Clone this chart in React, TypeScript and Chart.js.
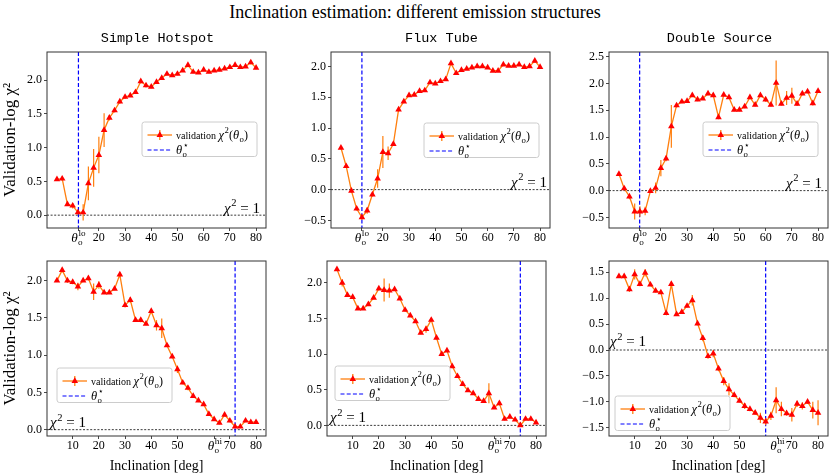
import { useEffect, useRef } from "react"
import { Chart, registerables } from "chart.js"

Chart.register(...registerables)

// inclination grid [deg]
const inclination = [4, 6, 8, 10, 12, 14, 16, 18, 20, 22, 24, 26, 28, 30, 32, 34, 36, 38, 40, 42, 44, 46, 48, 50, 52, 54, 56, 58, 60, 62, 64, 66, 68, 70, 72, 74, 76, 78, 80]

// top row: validation against the low-inclination truth
const hotspotLo = [0.53, 0.54, 0.16, 0.14, 0.04, 0.04, 0.47, 0.7, 0.89, 1.26, 1.44, 1.55, 1.68, 1.75, 1.77, 1.82, 1.98, 1.92, 1.9, 1.97, 2.03, 2.09, 2.07, 2.09, 2.14, 2.22, 2.12, 2.11, 2.15, 2.12, 2.14, 2.15, 2.17, 2.19, 2.22, 2.19, 2.2, 2.26, 2.18]
const hotspotLoErr = [0.02, 0.03, 0.02, 0.04, 0.03, 0.12, 0.25, 0.28, 0.27, 0.25, 0.04, 0.03, 0.03, 0.03, 0.02, 0.02, 0.03, 0.03, 0.02, 0.02, 0.02, 0.02, 0.02, 0.02, 0.02, 0.03, 0.02, 0.02, 0.02, 0.02, 0.02, 0.02, 0.02, 0.02, 0.02, 0.02, 0.02, 0.03, 0.02]
const fluxLo = [0.68, 0.38, -0.02, -0.31, -0.45, -0.34, -0.08, 0.18, 0.61, 0.59, 0.74, 1.3, 1.43, 1.53, 1.54, 1.6, 1.61, 1.74, 1.72, 1.76, 1.79, 2.05, 1.89, 1.94, 1.96, 1.98, 2.0, 2.0, 1.98, 1.93, 1.93, 2.03, 2.01, 2.01, 2.03, 1.99, 2.0, 2.09, 1.99]
const fluxLoErr = [0.02, 0.03, 0.03, 0.03, 0.04, 0.05, 0.03, 0.15, 0.26, 0.11, 0.03, 0.03, 0.02, 0.02, 0.02, 0.02, 0.02, 0.02, 0.02, 0.02, 0.02, 0.03, 0.02, 0.02, 0.02, 0.02, 0.02, 0.02, 0.02, 0.02, 0.02, 0.02, 0.02, 0.02, 0.02, 0.02, 0.02, 0.03, 0.02]
const doubleLo = [0.31, 0.04, -0.11, -0.39, -0.39, -0.38, -0.01, 0.05, 0.42, 0.6, 1.2, 1.59, 1.66, 1.67, 1.78, 1.7, 1.72, 1.81, 1.78, 1.37, 1.79, 1.74, 1.51, 1.51, 1.57, 1.74, 1.6, 1.78, 1.7, 1.6, 2.01, 1.62, 1.73, 1.77, 1.62, 1.81, 1.85, 1.63, 1.86]
const doubleLoErr = [0.03, 0.03, 0.05, 0.15, 0.1, 0.08, 0.03, 0.1, 0.15, 0.05, 0.4, 0.04, 0.03, 0.03, 0.03, 0.03, 0.03, 0.03, 0.03, 0.03, 0.03, 0.03, 0.03, 0.03, 0.03, 0.03, 0.03, 0.03, 0.04, 0.03, 0.42, 0.03, 0.13, 0.15, 0.04, 0.03, 0.03, 0.04, 0.03]

// bottom row: validation against the high-inclination truth
const hotspotHi = [2.0, 2.14, 2.0, 1.98, 1.92, 2.0, 2.03, 1.85, 1.94, 1.84, 1.84, 1.89, 2.08, 1.67, 1.74, 1.47, 1.47, 1.42, 1.59, 1.4, 1.36, 1.13, 0.98, 0.81, 0.63, 0.56, 0.45, 0.39, 0.34, 0.21, 0.14, 0.09, 0.2, 0.12, 0.04, 0.04, 0.12, 0.1, 0.1]
const hotspotHiErr = [0.02, 0.03, 0.03, 0.03, 0.05, 0.02, 0.03, 0.11, 0.05, 0.02, 0.02, 0.02, 0.03, 0.03, 0.04, 0.02, 0.03, 0.02, 0.03, 0.07, 0.13, 0.02, 0.02, 0.05, 0.02, 0.03, 0.02, 0.02, 0.02, 0.02, 0.02, 0.02, 0.02, 0.02, 0.02, 0.02, 0.02, 0.02, 0.02]
const fluxHi = [2.19, 2.0, 1.83, 1.8, 1.64, 1.64, 1.7, 1.79, 1.92, 1.9, 1.89, 1.91, 1.78, 1.62, 1.54, 1.46, 1.3, 1.35, 1.48, 1.23, 1.0, 1.05, 0.83, 0.69, 0.58, 0.49, 0.45, 0.37, 0.34, 0.45, 0.25, 0.31, 0.09, 0.12, 0.08, 0.0, 0.09, 0.09, 0.04]
const fluxHiErr = [0.02, 0.05, 0.02, 0.02, 0.02, 0.02, 0.02, 0.02, 0.02, 0.16, 0.1, 0.02, 0.02, 0.02, 0.02, 0.02, 0.02, 0.05, 0.02, 0.02, 0.02, 0.02, 0.02, 0.02, 0.02, 0.02, 0.02, 0.02, 0.02, 0.14, 0.02, 0.03, 0.02, 0.02, 0.02, 0.02, 0.02, 0.02, 0.02]
const doubleHi = [1.42, 1.42, 1.17, 1.46, 1.27, 1.49, 1.26, 1.14, 1.11, 0.71, 1.27, 0.69, 0.73, 0.85, 0.96, 0.51, 0.23, -0.12, -0.07, -0.36, -0.6, -0.76, -0.87, -0.98, -1.08, -1.14, -1.21, -1.31, -1.38, -1.27, -0.97, -1.14, -1.22, -1.25, -1.04, -1.08, -1.0, -1.16, -1.21]
const doubleHiErr = [0.03, 0.03, 0.05, 0.1, 0.04, 0.07, 0.03, 0.03, 0.03, 0.03, 0.05, 0.03, 0.03, 0.03, 0.1, 0.03, 0.06, 0.05, 0.07, 0.05, 0.08, 0.12, 0.04, 0.03, 0.06, 0.04, 0.04, 0.1, 0.07, 0.08, 0.25, 0.14, 0.05, 0.13, 0.06, 0.07, 0.04, 0.16, 0.24]

// tick values
const xTicksTop = [20, 30, 40, 50, 60, 70, 80]
const xTicksBottom = [10, 20, 30, 40, 50, 70, 80]
const yTicksTL = [0, 0.5, 1, 1.5, 2]
const yTicksTM = [-0.5, 0, 0.5, 1, 1.5, 2]
const yTicksTR = [-0.5, 0, 0.5, 1, 1.5, 2, 2.5]
const yTicksBL = [0, 0.5, 1, 1.5, 2]
const yTicksBM = [0, 0.5, 1, 1.5, 2]
const yTicksBR = [-1.5, -1, -0.5, 0, 0.5, 1, 1.5]

const SERIF = "'Liberation Serif', 'DejaVu Serif', serif"
const MONO = "'Liberation Mono', 'DejaVu Sans Mono', monospace"
const ORANGE = "#ff7f0e"
const RED = "#ff0000"
const BLUE = "#0000ff"
const X_MIN = 0.2
const X_MAX = 83.8
const PAD_T = 12
const PAD_R = 2

type Seg = { t: string; it?: boolean; sup?: string; sub?: string; k?: number }

interface PanelCfg {
  title: string
  values: number[]
  errors: number[]
  box: { l: number; t: number; r: number; b: number }
  padL: number
  padB: number
  yMin: number
  yMax: number
  yTicks: number[]
  xTicks: number[]
  thetaTick: number
  thetaTag: string
  vline: number
  chi: { align: "left" | "right"; dx: number; dy: number }
  legend: { x: number; y: number }
  yTitle: boolean
  xTitle: boolean
}

const panels: PanelCfg[] = [
  { title: "Simple Hotspot", values: hotspotLo, errors: hotspotLoErr, box: { l: 47, t: 52, r: 268, b: 228 }, padL: 47, padB: 24, yMin: -0.19, yMax: 2.415, yTicks: yTicksTL, xTicks: xTicksTop, thetaTick: 12.2, thetaTag: "lo", vline: 12.2, chi: { align: "right", dx: -6, dy: -2.5 }, legend: { x: 95, y: 70 }, yTitle: true, xTitle: false },
  { title: "Flux Tube", values: fluxLo, errors: fluxLoErr, box: { l: 331, t: 52, r: 552, b: 228 }, padL: 42, padB: 24, yMin: -0.623, yMax: 2.234, yTicks: yTicksTM, xTicks: xTicksTop, thetaTick: 12, thetaTag: "lo", vline: 12, chi: { align: "right", dx: -3, dy: -3 }, legend: { x: 93, y: 71 }, yTitle: false, xTitle: false },
  { title: "Double Source", values: doubleLo, errors: doubleLoErr, box: { l: 609, t: 52, r: 830, b: 228 }, padL: 42, padB: 24, yMin: -0.698, yMax: 2.588, yTicks: yTicksTR, xTicks: xTicksTop, thetaTick: 11.9, thetaTag: "lo", vline: 11.9, chi: { align: "right", dx: -6, dy: -3 }, legend: { x: 94, y: 70 }, yTitle: false, xTitle: false },
  { title: "", values: hotspotHi, errors: hotspotHiErr, box: { l: 47, t: 261, r: 268, b: 436 }, padL: 47, padB: 39, yMin: -0.085, yMax: 2.263, yTicks: yTicksBL, xTicks: xTicksBottom, thetaTick: 64.3, thetaTag: "hi", vline: 72, chi: { align: "left", dx: 3, dy: -2.5 }, legend: { x: 10, y: 107 }, yTitle: true, xTitle: true },
  { title: "", values: fluxHi, errors: fluxHiErr, box: { l: 327, t: 261, r: 548, b: 436 }, padL: 42, padB: 39, yMin: -0.149, yMax: 2.307, yTicks: yTicksBM, xTicks: xTicksBottom, thetaTick: 64.3, thetaTag: "hi", vline: 74, chi: { align: "left", dx: 3, dy: -3 }, legend: { x: 8, y: 105 }, yTitle: false, xTitle: true },
  { title: "", values: doubleHi, errors: doubleHiErr, box: { l: 609, t: 261, r: 830, b: 436 }, padL: 42, padB: 39, yMin: -1.659, yMax: 1.717, yTicks: yTicksBR, xTicks: xTicksBottom, thetaTick: 64.5, thetaTag: "hi", vline: 60, chi: { align: "left", dx: 1, dy: -3.8 }, legend: { x: 6, y: 135 }, yTitle: false, xTitle: true },
]

function segFont(size: number, it?: boolean) {
  return `${it ? "italic " : ""}${size}px ${SERIF}`
}

function richWidth(ctx: CanvasRenderingContext2D, segs: Seg[], size: number) {
  let w = 0
  for (const s of segs) {
    const fs = size * (s.k ?? 1)
    ctx.font = segFont(fs, s.it)
    w += ctx.measureText(s.t).width
    if (s.sup || s.sub) {
      ctx.font = segFont(fs * 0.7)
      w += Math.max(s.sup ? ctx.measureText(s.sup).width : 0, s.sub ? ctx.measureText(s.sub).width : 0) + 0.6
    }
  }
  return w
}

function drawRich(ctx: CanvasRenderingContext2D, segs: Seg[], x: number, y: number, size: number, align: "left" | "center" | "right") {
  const w = richWidth(ctx, segs, size)
  let cx = align === "center" ? x - w / 2 : align === "right" ? x - w : x
  ctx.textAlign = "left"
  ctx.textBaseline = "alphabetic"
  ctx.fillStyle = "#000"
  for (const s of segs) {
    const fs = size * (s.k ?? 1)
    ctx.font = segFont(fs, s.it)
    ctx.fillText(s.t, cx, y)
    cx += ctx.measureText(s.t).width
    if (s.sup || s.sub) {
      ctx.font = segFont(fs * 0.7)
      let sw = 0
      if (s.sup) {
        ctx.fillText(s.sup, cx + 0.6, y - fs * 0.42)
        sw = ctx.measureText(s.sup).width
      }
      if (s.sub) {
        ctx.fillText(s.sub, cx + 0.3, y + fs * 0.26)
        sw = Math.max(sw, ctx.measureText(s.sub).width)
      }
      cx += sw + 0.6
    }
  }
}

function seg(ctx: CanvasRenderingContext2D, x1: number, y1: number, x2: number, y2: number) {
  ctx.beginPath()
  ctx.moveTo(x1, y1)
  ctx.lineTo(x2, y2)
  ctx.stroke()
}

function triangle(ctx: CanvasRenderingContext2D, x: number, y: number, r: number) {
  ctx.beginPath()
  for (let k = 0; k < 3; k++) {
    const a = (k * 2 * Math.PI) / 3
    const px = x + Math.sin(a) * r
    const py = y - Math.cos(a) * r
    if (k === 0) ctx.moveTo(px, py)
    else ctx.lineTo(px, py)
  }
  ctx.closePath()
  ctx.fillStyle = RED
  ctx.fill()
}

function makeDecor(cfg: PanelCfg) {
  return {
    id: "decor",
    beforeDatasetsDraw(chart: any) {
      const { ctx, chartArea: a, scales } = chart
      const x = scales.x
      const y = scales.y
      ctx.save()
      ctx.beginPath()
      ctx.rect(a.left, a.top, a.right - a.left, a.bottom - a.top)
      ctx.clip()
      // chi^2 = 1 reference
      const y0 = y.getPixelForValue(0)
      ctx.strokeStyle = "#222"
      ctx.lineWidth = 0.9
      ctx.setLineDash([2, 1.6])
      seg(ctx, a.left, y0, a.right, y0)
      // best-fit inclination
      const xv = x.getPixelForValue(cfg.vline)
      ctx.strokeStyle = BLUE
      ctx.lineWidth = 1.2
      ctx.setLineDash([4, 2.2])
      seg(ctx, xv, a.top, xv, a.bottom)
      // error bars
      ctx.setLineDash([])
      ctx.strokeStyle = ORANGE
      ctx.lineWidth = 1.2
      inclination.forEach((inc, i) => {
        const px = x.getPixelForValue(inc)
        const v = cfg.values[i]
        const e = cfg.errors[i]
        seg(ctx, px, y.getPixelForValue(v - e), px, y.getPixelForValue(v + e))
      })
      ctx.restore()
    },
    afterDatasetsDraw(chart: any) {
      const { ctx, chartArea: a, scales } = chart
      const x = scales.x
      const y = scales.y
      ctx.save()
      // frame
      ctx.strokeStyle = "#333"
      ctx.lineWidth = 1
      ctx.strokeRect(a.left, a.top, a.right - a.left, a.bottom - a.top)

      // chi^2 = 1 label
      const y0 = y.getPixelForValue(0)
      const cx = cfg.chi.align === "right" ? a.right + cfg.chi.dx : a.left + cfg.chi.dx
      drawRich(ctx, [{ t: "χ", it: true, sup: "2" }, { t: " = 1" }], cx, y0 + cfg.chi.dy, 15, cfg.chi.align)

      // theta tick label
      const tx = x.getPixelForValue(cfg.thetaTick)
      drawRich(ctx, [{ t: "θ", it: true, sup: cfg.thetaTag, sub: "o", k: 1.1 }], tx, a.bottom + 14, 12, "center")

      // legend
      const lx = a.left + cfg.legend.x
      const ly = a.top + cfg.legend.y
      const lw = 115
      const lh = 34.5
      ctx.beginPath()
      ctx.roundRect(lx, ly, lw, lh, 2.5)
      ctx.fillStyle = "rgba(255,255,255,0.8)"
      ctx.fill()
      ctx.strokeStyle = "#cccccc"
      ctx.lineWidth = 1
      ctx.stroke()

      const r1 = ly + 13
      const r2 = ly + 28
      const mx = lx + 17.8
      ctx.strokeStyle = ORANGE
      ctx.lineWidth = 1.3
      seg(ctx, lx + 5.5, r1, lx + 30, r1)
      seg(ctx, mx, r1 - 5, mx, r1 + 5)
      triangle(ctx, mx, r1, 3.8)
      drawRich(
        ctx,
        [
          { t: "validation " },
          { t: "χ", it: true, sup: "2", k: 1.25 },
          { t: "(", k: 1.2 },
          { t: "θ", it: true, sub: "o", k: 1.25 },
          { t: ")", k: 1.2 },
        ],
        lx + 34,
        r1 + 3.5,
        10,
        "left"
      )

      ctx.strokeStyle = BLUE
      ctx.lineWidth = 1.2
      ctx.setLineDash([4, 2.2])
      seg(ctx, lx + 5.5, r2, lx + 30, r2)
      ctx.setLineDash([])
      drawRich(ctx, [{ t: "θ", it: true, sup: "⋆", sub: "o", k: 1.25 }], lx + 34, r2 + 3.5, 10, "left")
      ctx.restore()
    },
  }
}

function fmtY(v: number) {
  return (v < 0 ? "−" : "") + Math.abs(v).toFixed(1)
}

function Panel({ cfg }: { cfg: PanelCfg }) {
  const canvasRef = useRef<HTMLCanvasElement>(null)
  const boxW = cfg.box.r - cfg.box.l
  const boxH = cfg.box.b - cfg.box.t
  const w = cfg.padL + boxW + PAD_R
  const h = PAD_T + boxH + cfg.padB

  useEffect(() => {
    if (!canvasRef.current) return
    const tickFont = { family: SERIF, size: 12, lineHeight: 1 }
    const chart = new Chart(canvasRef.current, {
      type: "line",
      data: {
        datasets: [
          {
            data: inclination.map((inc, i) => ({ x: inc, y: cfg.values[i] })),
            borderColor: ORANGE,
            borderWidth: 1.3,
            tension: 0,
            fill: false,
            pointStyle: "triangle",
            pointRadius: 3.8,
            pointBackgroundColor: RED,
            pointBorderColor: RED,
            pointBorderWidth: 0,
          },
        ],
      },
      options: {
        responsive: false,
        animation: false,
        events: [],
        layout: { padding: { left: 0, top: PAD_T, right: PAD_R, bottom: 0 } },
        plugins: { legend: { display: false }, tooltip: { enabled: false }, title: { display: false } },
        scales: {
          x: {
            type: "linear",
            min: X_MIN,
            max: X_MAX,
            afterFit: (s: any) => {
              s.height = cfg.padB
            },
            afterBuildTicks: (s: any) => {
              s.ticks = [cfg.thetaTick, ...cfg.xTicks].map((v) => ({ value: v }))
            },
            ticks: {
              autoSkip: false,
              maxRotation: 0,
              padding: 0.6,
              color: "#000",
              font: tickFont,
              callback: (v: any) => (v === cfg.thetaTick ? "" : String(v)),
            },
            grid: { drawOnChartArea: false, drawTicks: true, tickLength: 3, tickColor: "#333", tickWidth: 0.9 },
            border: { display: false },
            title: {
              display: cfg.xTitle,
              text: "Inclination [deg]",
              color: "#000",
              font: { family: SERIF, size: 14 },
              padding: { top: 0, bottom: 0.5 },
            },
          },
          y: {
            type: "linear",
            min: cfg.yMin,
            max: cfg.yMax,
            afterFit: (s: any) => {
              s.width = cfg.padL
            },
            afterBuildTicks: (s: any) => {
              s.ticks = cfg.yTicks.map((v) => ({ value: v }))
            },
            ticks: { padding: 2, color: "#000", font: tickFont, callback: (v: any) => fmtY(Number(v)) },
            grid: { drawOnChartArea: false, drawTicks: true, tickLength: 3, tickColor: "#333", tickWidth: 0.9 },
            border: { display: false },
            title: {
              display: cfg.yTitle,
              text: "Validation-log χ²",
              color: "#000",
              font: { family: SERIF, size: 17 },
              padding: { top: 0, bottom: 0 },
            },
          },
        },
      } as any,
      plugins: [makeDecor(cfg)],
    })
    return () => chart.destroy()
  }, [cfg])

  return (
    <>
      <canvas
        ref={canvasRef}
        width={w}
        height={h}
        style={{ position: "absolute", left: cfg.box.l - cfg.padL, top: cfg.box.t - PAD_T, width: w, height: h }}
      />
      {cfg.title && (
        <div
          style={{
            position: "absolute",
            left: cfg.box.l,
            width: boxW,
            top: 30,
            lineHeight: "18px",
            textAlign: "center",
            fontFamily: MONO,
            fontSize: 13.5,
            color: "#000",
          }}
        >
          {cfg.title}
        </div>
      )}
    </>
  )
}

export default function App() {
  useEffect(() => {
    document.body.style.margin = "0"
  }, [])
  return (
    <div style={{ position: "absolute", left: 0, top: 0, width: 830, height: 474, overflow: "hidden", background: "#fff" }}>
      <div
        style={{
          position: "absolute",
          left: 0,
          top: 1,
          width: 830,
          textAlign: "center",
          fontFamily: SERIF,
          fontSize: 18,
          lineHeight: "22px",
          color: "#000",
        }}
      >
        Inclination estimation: different emission structures
      </div>
      {panels.map((p, i) => (
        <Panel key={i} cfg={p} />
      ))}
    </div>
  )
}
